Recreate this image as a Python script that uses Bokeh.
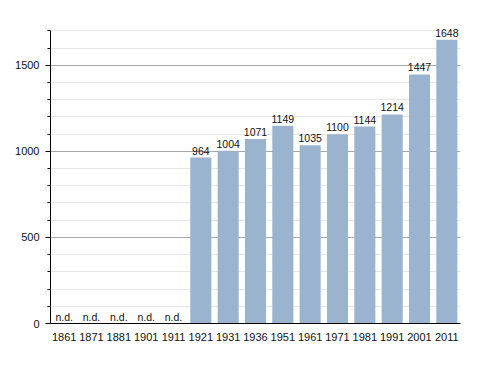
from bokeh.plotting import figure
from bokeh.models import ColumnDataSource, SingleIntervalTicker, Range1d, LabelSet
from bokeh.core.properties import value
from bokeh.embed import file_html
from bokeh.resources import INLINE

years = ["1861", "1871", "1881", "1901", "1911", "1921", "1931", "1936",
         "1951", "1961", "1971", "1981", "1991", "2001", "2011"]
population = [None, None, None, None, None, 964, 1004, 1071,
              1149, 1035, 1100, 1144, 1214, 1447, 1648]

bar_years = [y for y, v in zip(years, population) if v is not None]
bar_vals = [v for v in population if v is not None]
nd_years = [y for y, v in zip(years, population) if v is None]

bars = ColumnDataSource(dict(x=bar_years, top=bar_vals, label=[str(v) for v in bar_vals]))
nd = ColumnDataSource(dict(x=nd_years, y=[0] * len(nd_years), label=["n.d."] * len(nd_years)))

p = figure(x_range=years, width=480, height=365, output_backend="svg",
           toolbar_location=None, min_border_left=50, min_border_top=20,
           min_border_right=20, min_border_bottom=42)
p.y_range = Range1d(0, 1760)
p.x_range.range_padding = 0.0
p.outline_line_color = None

p.vbar(x="x", top="top", width=0.77, source=bars, fill_color="#9ab3cf", line_color=None)

for src, ycol, off in ((bars, "top", 3), (nd, "y", 1)):
    p.add_layout(LabelSet(x="x", y=ycol, text="label", source=src, text_align="center",
                          text_baseline="bottom", y_offset=off,
                          text_font=value("Liberation Sans"), text_font_size=value("10.5px"),
                          text_color=value("#111111")))

p.yaxis.ticker = SingleIntervalTicker(interval=500, num_minor_ticks=5)
p.yaxis.bounds = (0, 1700)
p.yaxis.axis_line_color = "black"
p.yaxis.major_tick_line_color = "black"
p.yaxis.minor_tick_line_color = "black"
p.yaxis.major_tick_out = 5
p.yaxis.major_tick_in = 0
p.yaxis.minor_tick_out = 3
p.yaxis.minor_tick_in = 0
p.yaxis.major_label_text_font = "Liberation Sans"
p.yaxis.major_label_text_font_size = "11px"
p.yaxis.major_label_text_color = "#111111"
p.yaxis.major_label_standoff = 6

p.xaxis.axis_line_color = "black"
p.xaxis.major_tick_line_color = None
p.xaxis.minor_tick_line_color = None
p.xaxis.major_label_text_font = "Liberation Sans"
p.xaxis.major_label_text_font_size = "11px"
p.xaxis.major_label_text_color = "#111111"
p.xaxis.major_label_standoff = 3

p.xgrid.grid_line_color = None
p.ygrid.grid_line_color = "#a8a8a8"
p.ygrid.minor_grid_line_color = "#e6e6e6"
p.ygrid.bounds = (0, 1700)

open("out.html", "w").write(file_html(p, INLINE))
